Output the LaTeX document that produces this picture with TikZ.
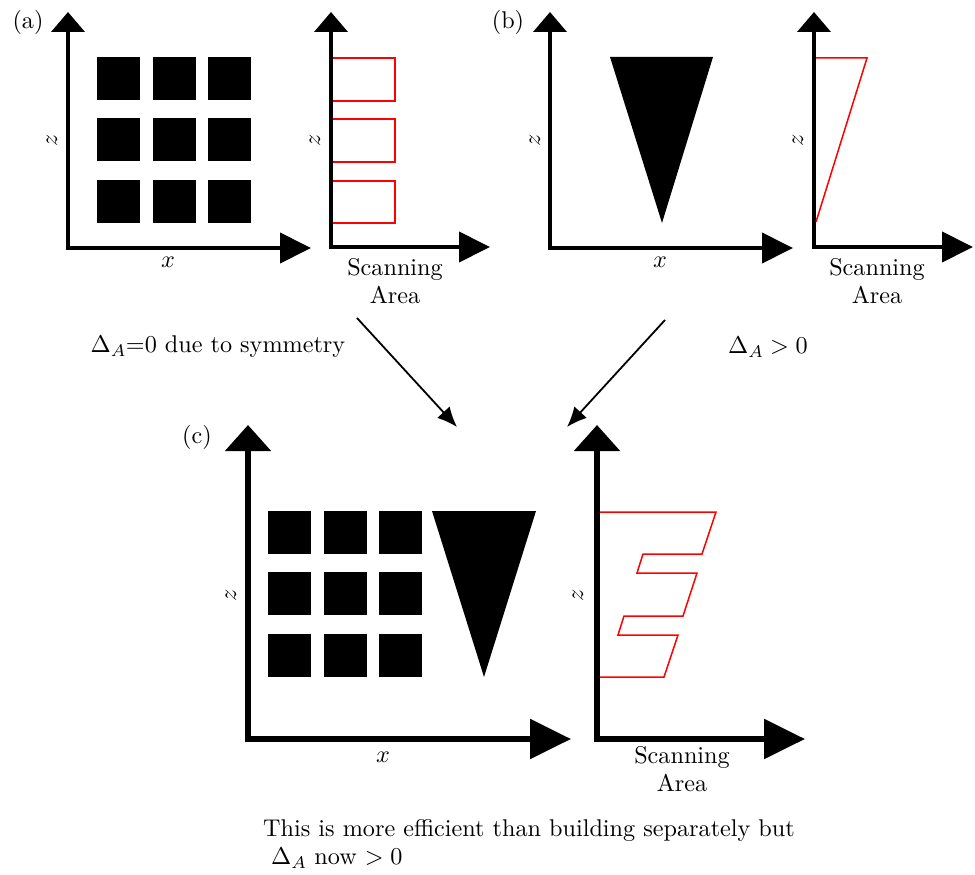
\documentclass[tikz,border=0pt]{standalone}
\usepackage[no-math]{fontspec}
\setmainfont{lmroman10-regular}[Extension=.otf, ItalicFont=lmroman10-italic, BoldFont=lmroman10-bold]
\DeclareFontFamily{OML}{cmmten}{\skewchar\font'177}
\DeclareFontShape{OML}{cmmten}{m}{it}{<-20> cmmi7 <20-> cmmi10}{}
\DeclareFontFamily{OT1}{cmrten}{\hyphenchar\font45 }
\DeclareFontShape{OT1}{cmrten}{m}{n}{<-20> cmr7 <20-> cmr10}{}
\DeclareFontFamily{OMS}{cmsyten}{\skewchar\font'60}
\DeclareFontShape{OMS}{cmsyten}{m}{n}{<-20> cmsy7 <20-> cmsy10}{}
\DeclareSymbolFont{letters}{OML}{cmmten}{m}{it}
\DeclareSymbolFont{operators}{OT1}{cmrten}{m}{n}
\DeclareSymbolFont{symbols}{OMS}{cmsyten}{m}{n}
\usetikzlibrary{arrows.meta}
\begin{document}
\begin{tikzpicture}[x=1pt,y=-1pt,
  every node/.style={font=\fontsize{24.2}{28.5}\selectfont, inner sep=0pt},
  axsmall/.style={line width=4pt, line join=miter,
    {Triangle[length=20pt,width=33pt]}-{Triangle[length=31pt,width=30pt]}},
  axbig/.style={line width=5.5pt, line join=miter,
    {Triangle[length=26pt,width=45pt]}-{Triangle[length=41pt,width=39pt]}},
  blk/.style={fill=black},
  scan/.style={draw=red, line width=1.5pt, line join=miter},
  conn/.style={line width=1.8pt, -{Latex[length=20pt,width=17pt]}},
  zlab/.style={rotate=90}]
\useasboundingbox (0,0) rectangle (975,875);

% ---------- panel (a) ----------
\draw[axsmall] (68,12) -- (68,248) -- (311,248);
\foreach \cx in {97,153,208}
  \foreach \cy in {57,118,180}
    \fill[blk] (\cx,\cy) rectangle ++(43,43);
\node (la) at (28,22) {(a)};
\node[zlab] (za) at (52,140) {$z$};
\node (xa) at (168,262) {$x$};

\draw[axsmall] (331,12) -- (331,247) -- (490,247);
\foreach \cy/\dy in {58/101,119/162,181/223}
  \draw[scan] (333,\cy) -- (395,\cy) -- (395,\dy) -- (333,\dy);
\node[zlab] (zas) at (315,140) {$z$};
\node[align=center] (sa) at (395,281) {Scanning\\Area};

% ---------- panel (b) ----------
\draw[axsmall] (550,12) -- (550,248) -- (793,248);
\fill[blk] (610,57) -- (713,57) -- (662,223) -- cycle;
\node (lb) at (508,22) {(b)};
\node[zlab] (zb) at (535,140) {$z$};
\node (xb) at (660,262) {$x$};

\draw[axsmall] (814,12) -- (814,247) -- (973,247);
\draw[scan] (816,58) -- (867,58) -- (816,222);
\node[zlab] (zbs) at (798,140) {$z$};
\node[align=center] (sb) at (877,281) {Scanning\\Area};

% ---------- connectors and notes ----------
\coordinate (a1s) at (357,318);
\coordinate (a1e) at (457,427);
\coordinate (a2s) at (665,320);
\coordinate (a2e) at (567,427);
\draw[conn] (a1s) -- (a1e);
\draw[conn] (a2s) -- (a2e);
\node (da) at (218,347) {$\Delta_A$=0 due to symmetry};
\node (db) at (768,347) {$\Delta_A > 0$};

% ---------- panel (c) ----------
\draw[axbig] (248,425) -- (248,739) -- (571,739);
\foreach \cx in {268,324,379}
  \foreach \cy in {511,572,634}
    \fill[blk] (\cx,\cy) rectangle ++(43,43);
\fill[blk] (432,511) -- (536,511) -- (484,677) -- cycle;
\node (lc) at (197,437) {(c)};
\node[zlab] (zc) at (231,595) {$z$};
\node (xc) at (383,757) {$x$};

\draw[axbig] (597,425) -- (597,739) -- (805,739);
\draw[scan] (600,512) -- (716,512) -- (702,554) -- (643,554) -- (637,573)
  -- (697,573) -- (683,616) -- (624,616) -- (618,635) -- (678,635)
  -- (664,677) -- (600,677);
\node[zlab] (zcs) at (578,595) {$z$};
\node[align=center] (sc) at (682,769) {Scanning\\Area};

% ---------- bottom note ----------
\node[align=left, anchor=west] (note) at (263,844)
  {This is more efficient than building separately but\\\hspace*{8pt}$\Delta_A$ now $>0$};
\end{tikzpicture}
\end{document}
